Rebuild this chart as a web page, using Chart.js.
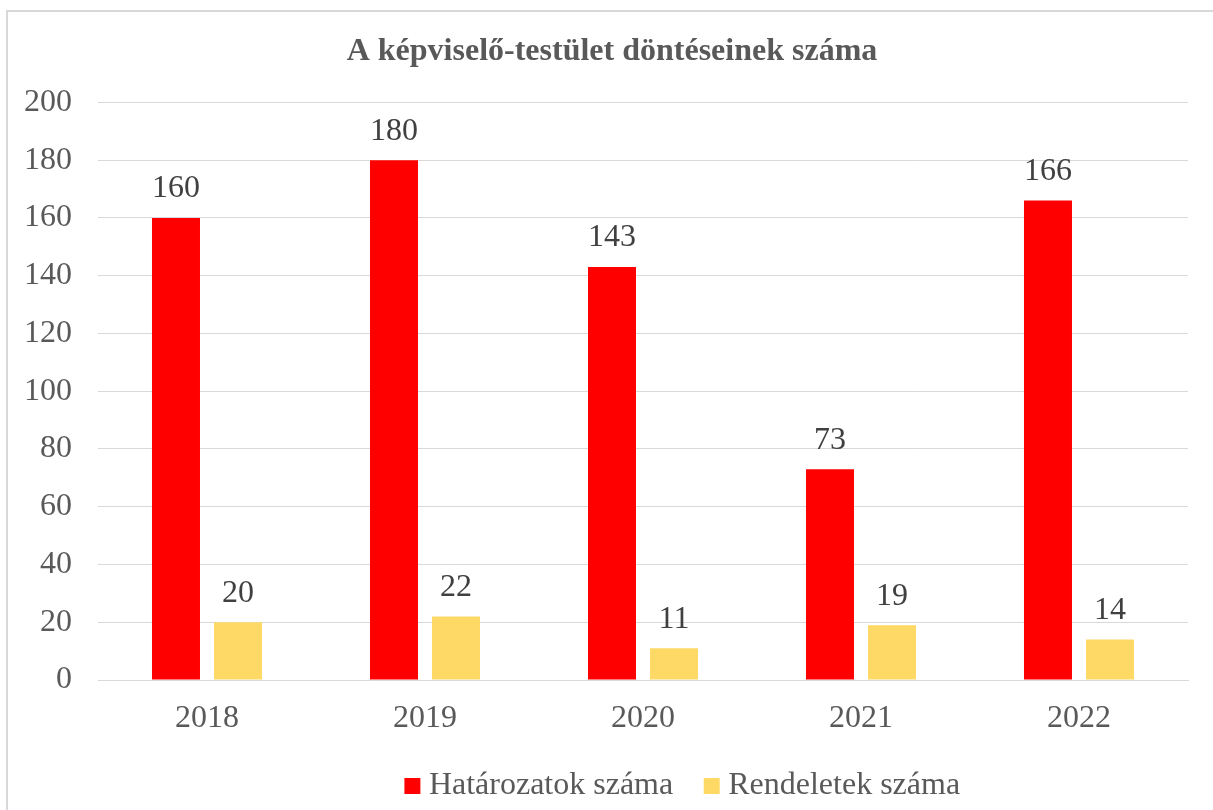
<!DOCTYPE html>
<html>
<head>
<meta charset="utf-8">
<script src="https://cdn.jsdelivr.net/npm/chart.js@4"></script>
<style>
  body { margin: 0; background: #fff; overflow: hidden; }
  #box {
    position: absolute; left: 6px; top: 10px;
    width: 1220px; height: 830px;
    border: 2px solid #d9d9d9; box-sizing: border-box;
  }
  #wrap { position: absolute; left: 0; top: 0; width: 1205px; height: 800px; }
</style>
</head>
<body>
<div id="box"><div id="wrap"><canvas id="chartCanvas"></canvas></div></div>
<script>
const years = ["2018", "2019", "2020", "2021", "2022"];
const hatarozatok = [160, 180, 143, 73, 166];
const rendeletek = [20, 22, 11, 19, 14];
const yTicks = [0, 20, 40, 60, 80, 100, 120, 140, 160, 180, 200];

const FONT = "'Liberation Serif', 'Times New Roman', serif";

// draws the value above every bar
const valueLabels = {
  id: "valueLabels",
  afterDatasetsDraw(chart) {
    const ctx = chart.ctx;
    ctx.save();
    ctx.font = "32px " + FONT;
    ctx.fillStyle = "#404040";
    ctx.textAlign = "center";
    ctx.textBaseline = "bottom";
    chart.data.datasets.forEach((ds, i) => {
      chart.getDatasetMeta(i).data.forEach((bar, j) => {
        ctx.fillText(ds.data[j], bar.x, bar.y - 13);
      });
    });
    ctx.restore();
  },
};

// the title and legend sit a little right of centre in the original
const nudgeBlocks = {
  id: "nudgeBlocks",
  afterLayout(chart) {
    if (chart.titleBlock) { chart.titleBlock.left += 14; chart.titleBlock.right += 14; }
    if (chart.legend) { chart.legend.left += 88; chart.legend.right += 88; }
  },
};

new Chart(document.getElementById("chartCanvas"), {
  type: "bar",
  data: {
    labels: years,
    datasets: [
      {
        label: "Határozatok száma",
        data: hatarozatok,
        backgroundColor: "#ff0000",
        barPercentage: 0.774,
        categoryPercentage: 0.569,
      },
      {
        label: "Rendeletek száma",
        data: rendeletek,
        backgroundColor: "#ffd966",
        barPercentage: 0.774,
        categoryPercentage: 0.569,
      },
    ],
  },
  options: {
    responsive: true,
    maintainAspectRatio: false,
    animation: false,
    layout: { padding: { left: 0, right: 25, top: 8, bottom: 0 } },
    scales: {
      x: {
        afterFit: (axis) => { axis.height = 52; },
        grid: { display: false },
        border: { color: "#d9d9d9", width: 1 },
        ticks: { color: "#595959", font: { family: FONT, size: 32 }, padding: 11 },
      },
      y: {
        min: 0,
        max: 200,
        afterFit: (axis) => { axis.width = 90; },
        afterBuildTicks: (axis) => { axis.ticks = yTicks.map((v) => ({ value: v })); },
        grid: { color: "#d9d9d9", lineWidth: 1, drawTicks: false },
        border: { display: false },
        ticks: { color: "#595959", font: { family: FONT, size: 32 }, padding: 26 },
      },
    },
    plugins: {
      title: {
        display: true,
        text: "A képviselő-testület döntéseinek száma",
        color: "#595959",
        font: { family: FONT, size: 32, weight: "bold" },
        padding: { top: 13, bottom: 31 },
      },
      legend: {
        position: "bottom",
        labels: {
          color: "#595959",
          font: { family: FONT, size: 32 },
          usePointStyle: true,
          pointStyle: "rect",
          boxWidth: 1,
          boxHeight: 16,
          padding: 38,
        },
      },
      tooltip: { enabled: false },
    },
  },
  plugins: [valueLabels, nudgeBlocks],
});
</script>
</body>
</html>
